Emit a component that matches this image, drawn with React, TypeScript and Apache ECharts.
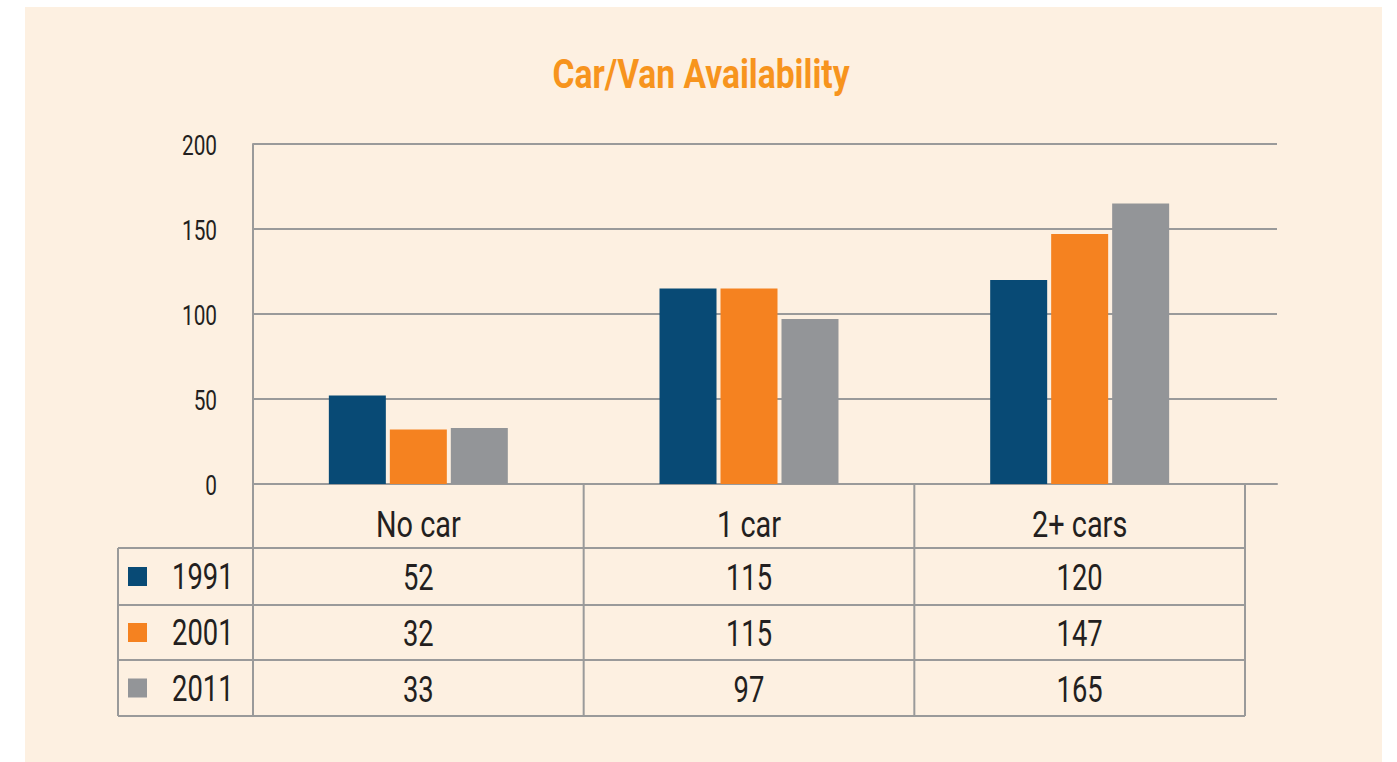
import React, { useEffect, useRef } from "react";
import * as echarts from "echarts";

const categories = ["No car", "1 car", "2+ cars"];
const years = ["1991", "2001", "2011"];
const values1991 = [52, 115, 120];
const values2001 = [32, 115, 147];
const values2011 = [33, 97, 165];
const yTicks = [0, 50, 100, 150, 200];
const seriesColors = ["#084A75", "#F58220", "#939598"];
const yMin = 0;
const yMax = 200;
const yInterval = 50;

const FONT = "Roboto, 'Noto Sans', sans-serif";
const TEXT = "#231F20";
const LINE = "#9A9A9A";

const W = 1397;
const H = 762;
const PLOT_L = 253;
const PLOT_R_BARS = 1245;
const PLOT_R_GRID = 1277;
const PLOT_T = 144;
const PLOT_B = 484;
const TABLE_L = 118;
const ROW_EDGES = [548, 605, 660, 716];

export default function App() {
  const ref = useRef<HTMLDivElement>(null);
  useEffect(() => {
    if (!ref.current) return;
    const chart = echarts.init(ref.current, null, { renderer: "svg" });
    const allSeries = [values1991, values2001, values2011];
    chart.setOption({
      animation: false,
      backgroundColor: "transparent",
      textStyle: { fontFamily: FONT },
      grid: [
        { left: PLOT_L, right: W - PLOT_R_BARS, top: PLOT_T, bottom: H - PLOT_B },
        { left: PLOT_L, right: W - PLOT_R_GRID, top: PLOT_T, bottom: H - PLOT_B },
      ],
      xAxis: [
        { type: "category", gridIndex: 0, data: categories, show: false },
        {
          type: "category",
          gridIndex: 1,
          data: [""],
          axisLine: { show: true, lineStyle: { color: LINE, width: 2 } },
          axisTick: { show: false },
          axisLabel: { show: false },
        },
      ],
      yAxis: [
        { type: "value", gridIndex: 0, min: yMin, max: yMax, interval: yInterval, show: false },
        {
          type: "value",
          gridIndex: 1,
          min: yMin,
          max: yMax,
          interval: yInterval,
          axisLine: { show: true, lineStyle: { color: LINE, width: 2 } },
          axisTick: { show: false },
          axisLabel: { show: false },
          splitLine: { show: true, lineStyle: { color: LINE, width: 2 } },
        },
      ],
      series: years.map((y, i) => ({
        name: y,
        type: "bar",
        xAxisIndex: 0,
        yAxisIndex: 0,
        data: allSeries[i],
        barWidth: 57,
        barGap: "7%",
        itemStyle: { color: seriesColors[i] },
        z: 3,
      })),
    });

    const centers = categories.map((c) => chart.convertToPixel({ xAxisIndex: 0 }, c) as number);
    const band = (PLOT_R_BARS - PLOT_L) / categories.length;
    const colEdges = categories.map((_, i) => PLOT_L + band * i).concat([PLOT_R_BARS]);
    const g: any[] = [];
    const ln = (x1: number, y1: number, x2: number, y2: number) => ({
      type: "line",
      shape: { x1, y1, x2, y2 },
      style: { stroke: LINE, lineWidth: 2 },
      z: 5,
    });
    const txt = (
      text: string,
      x: number,
      y: number,
      size: number,
      sx: number,
      align: string,
      color = TEXT,
      weight = "normal"
    ) => ({
      type: "text",
      x,
      y,
      scaleX: sx,
      style: {
        text,
        fill: color,
        font: `${weight} ${size}px ${FONT}`,
        align,
        verticalAlign: "middle",
      },
      z: 6,
    });
    // title
    g.push(txt("Car/Van Availability", 701, 74, 40, 0.84, "center", "#F7941D", "bold"));
    // y tick labels
    yTicks.forEach((v) => {
      const py = chart.convertToPixel({ yAxisIndex: 1 }, v) as number;
      g.push(txt(String(v), 217, py + 2, 27, 0.77, "right"));
    });
    // horizontal lines
    ROW_EDGES.forEach((y) => g.push(ln(TABLE_L, y, PLOT_R_BARS, y)));
    // vertical lines
    g.push(ln(TABLE_L, ROW_EDGES[0], TABLE_L, ROW_EDGES[ROW_EDGES.length - 1]));
    colEdges.forEach((x) => g.push(ln(x, PLOT_B, x, ROW_EDGES[ROW_EDGES.length - 1])));
    // header labels
    categories.forEach((c, i) => g.push(txt(c, centers[i], (PLOT_B + ROW_EDGES[0]) / 2 + 8, 37, 0.78, "center")));
    // rows
    years.forEach((yr, r) => {
      const cy = (ROW_EDGES[r] + ROW_EDGES[r + 1]) / 2;
      g.push({
        type: "rect",
        shape: { x: 128, y: cy - 9.5, width: 19, height: 19 },
        style: { fill: seriesColors[r] },
        z: 6,
      });
      g.push(txt(yr, 172, cy, 37, 0.74, "left"));
      allSeries[r].forEach((v, i) => g.push(txt(String(v), centers[i], cy + 1, 37, 0.74, "center")));
    });
    chart.setOption({ graphic: g });
    return () => chart.dispose();
  }, []);

  return (
    <div style={{ position: "fixed", left: 0, top: 0, width: W, height: H, background: "#FFFFFF" }}>
      <div
        style={{ position: "absolute", left: 25, top: 7, width: 1357, height: 755, background: "#FDF0E1" }}
      />
      <div ref={ref} style={{ position: "absolute", left: 0, top: 0, width: W, height: H }} />
    </div>
  );
}
